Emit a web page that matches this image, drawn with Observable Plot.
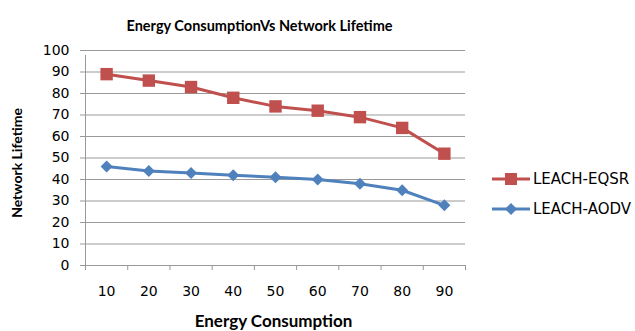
<!DOCTYPE html>
<html>
<head>
<meta charset="utf-8">
<script src="https://cdn.jsdelivr.net/npm/d3@7"></script>
<script src="https://cdn.jsdelivr.net/npm/@observablehq/plot@0.6"></script>
<style>
  body { margin: 0; background: #fff; }
  #wrap { position: relative; width: 635px; height: 331px; overflow: hidden; }
  #legend { position: absolute; left: 492px; top: 164px; font: 15px "DejaVu Sans", sans-serif; color: #000; }
  .item { display: flex; align-items: center; height: 30px; }
  .item span { margin-left: 3px; }
</style>
</head>
<body>
<div id="wrap"></div>
<script>
const categories = [10, 20, 30, 40, 50, 60, 70, 80, 90];
const eqsr = [89, 86, 83, 78, 74, 72, 69, 64, 52];
const aodv = [46, 44, 43, 42, 41, 40, 38, 35, 28];
const yTicks = [0, 10, 20, 30, 40, 50, 60, 70, 80, 90, 100];
const seriesNames = ["LEACH-EQSR", "LEACH-AODV"];
const colors = ["#C0504D", "#4F81BD"];

const data = [
  ...categories.map((c, i) => ({x: c, y: eqsr[i], s: seriesNames[0]})),
  ...categories.map((c, i) => ({x: c, y: aodv[i], s: seriesNames[1]}))
];
const step = categories[1] - categories[0];
const xDomain = [categories[0] - step / 2, categories[categories.length - 1] + step / 2];
const boundaries = [...categories.map(c => c - step / 2), xDomain[1]];

const chart = Plot.plot({
  width: 635,
  height: 331,
  marginLeft: 85,
  marginRight: 170,
  marginTop: 50,
  marginBottom: 66,
  style: {fontFamily: "DejaVu Sans, sans-serif", fontSize: "14px", color: "#000", background: "#fff"},
  x: {domain: xDomain},
  y: {domain: [0, 100]},
  marks: [
    Plot.gridY(yTicks, {stroke: "#999", strokeOpacity: 1}),
    Plot.ruleX([xDomain[0]], {y1: 0, y2: 100, stroke: "#999", insetBottom: -5}),
    Plot.axisY({ticks: yTicks, tickSize: 5, tickPadding: 11, stroke: "#999", label: null, fontSize: 14}),
    Plot.axisX({ticks: boundaries, tickSize: 5, tickFormat: () => "", stroke: "#999", label: null}),
    Plot.axisX({ticks: categories, tickSize: 0, tickPadding: 21, label: null, fontSize: 14}),
    Plot.line(data, {x: "x", y: "y", z: "s", stroke: "s", strokeWidth: 3}),
    Plot.dot(data.filter(d => d.s === seriesNames[0]), {x: "x", y: "y", symbol: "square", r: 7, fill: colors[0], stroke: "none"}),
    Plot.dot(data.filter(d => d.s === seriesNames[1]), {x: "x", y: "y", symbol: "diamond2", r: 5.4, fill: colors[1], stroke: "none"}),
    Plot.text(["Energy ConsumptionVs Network Lifetime"], {frameAnchor: "top", dx: -16, dy: -30, fontWeight: "bold", fontSize: 14.5, fontFamily: "Lato, sans-serif"}),
    Plot.text(["Network Lifetime"], {frameAnchor: "left", textAnchor: "middle", rotate: -90, dx: -68, dy: 5, fontWeight: "bold", fontSize: 14, fontFamily: "Lato, sans-serif"}),
    Plot.text(["Energy Consumption"], {frameAnchor: "bottom", dx: -2, dy: 61, fontWeight: "bold", fontSize: 17, fontFamily: "Lato, sans-serif"})
  ],
  color: {domain: seriesNames, range: colors}
});
document.getElementById("wrap").appendChild(chart);

const legend = document.createElement("div");
legend.id = "legend";
seriesNames.forEach((name, i) => {
  const item = document.createElement("div");
  item.className = "item";
  const sym = i === 0
    ? `<rect x="13" y="1" width="12" height="12" fill="${colors[i]}"/>`
    : `<path d="M19,1 L25,7 L19,13 L13,7 Z" fill="${colors[i]}"/>`;
  item.innerHTML = `<svg width="38" height="14"><line x1="0" x2="38" y1="7" y2="7" stroke="${colors[i]}" stroke-width="3"/>${sym}</svg><span>${name}</span>`;
  legend.appendChild(item);
});
document.getElementById("wrap").appendChild(legend);
</script>
</body>
</html>
